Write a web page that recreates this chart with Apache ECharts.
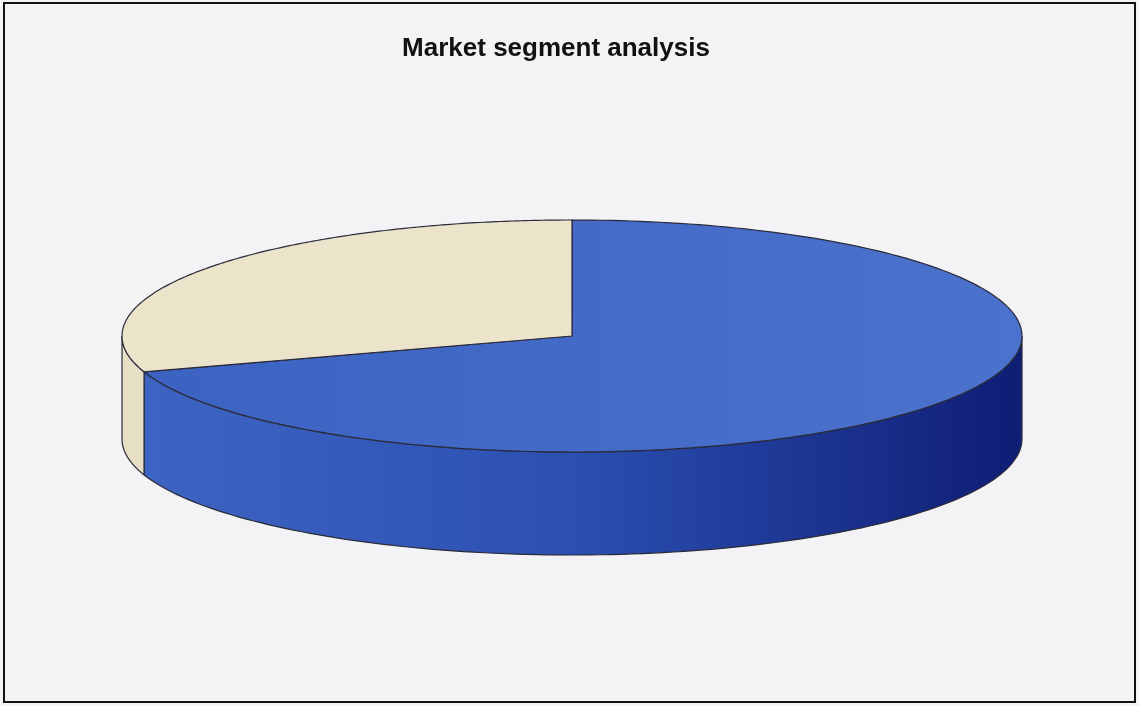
<!DOCTYPE html>
<html>
<head>
<meta charset="utf-8">
<script src="https://cdn.jsdelivr.net/npm/echarts@6/dist/echarts.min.js"></script>
<style>
html,body{margin:0;padding:0;background:#f3f3f5;}
#frame{position:absolute;left:3px;top:2px;width:1129px;height:697px;border:2px solid #111;background:#f3f3f5;}
#chart{width:1129px;height:697px;}
</style>
</head>
<body>
<div id="frame"><div id="chart"></div></div>
<script>
var categories = ['Segment A', 'Segment B'];
var values = [70, 30];
var chartTitle = 'Market segment analysis';

var topColors = ['#4169c6', '#ebe4cb'];
var sideLeft = ['#3f65c4', '#e6dfc6'];
var sideMid = ['#2b50b2', '#e2dbc1'];
var sideRight = ['#0f1d74', '#d8d0b6'];

var chart = echarts.init(document.getElementById('chart'));
var total = values.reduce(function (a, b) { return a + b; }, 0);

function renderItem(params, api) {
  var idx = params.dataIndex;
  var cx = 567, cy = 332, rx = 450, ry = 116, depth = 103;
  var start = 0;
  for (var i = 0; i < idx; i++) start += values[i];
  var a0 = start / total * 2 * Math.PI;
  var a1 = (start + api.value(1)) / total * 2 * Math.PI;
  function pt(a, dy) { return [cx + rx * Math.sin(a), cy - ry * Math.cos(a) + (dy || 0)]; }
  var children = [];
  var s0 = Math.max(a0, Math.PI / 2), s1 = Math.min(a1, 3 * Math.PI / 2);
  if (s1 > s0) {
    var pts = [], n = 120, k;
    for (k = 0; k <= n; k++) pts.push(pt(s0 + (s1 - s0) * k / n));
    for (k = n; k >= 0; k--) pts.push(pt(s0 + (s1 - s0) * k / n, depth));
    children.push({
      type: 'polygon',
      shape: { points: pts },
      style: {
        fill: new echarts.graphic.LinearGradient(cx - rx, 0, cx + rx, 0, [
          { offset: 0, color: sideLeft[idx] },
          { offset: 0.5, color: sideMid[idx] },
          { offset: 1, color: sideRight[idx] }
        ], true),
        stroke: '#2a2a3a', lineWidth: 1.2
      }
    });
  }
  var tp = [[cx, cy]], m = 200;
  for (var j = 0; j <= m; j++) tp.push(pt(a0 + (a1 - a0) * j / m));
  children.push({
    type: 'polygon',
    shape: { points: tp },
    style: {
      fill: new echarts.graphic.LinearGradient(cx - rx, 0, cx + rx, 0, [
        { offset: 0, color: idx === 0 ? '#3b62c1' : topColors[idx] },
        { offset: 1, color: idx === 0 ? '#4b72cc' : topColors[idx] }
      ], true),
      stroke: '#2a2a3a', lineWidth: 1.2
    }
  });
  return { type: 'group', children: children };
}

chart.setOption({
  backgroundColor: '#f3f3f5',
  animation: false,
  title: {
    text: chartTitle,
    left: 546, top: 27, textAlign: 'center',
    textStyle: { fontFamily: 'Liberation Sans, Arial', fontSize: 26, fontWeight: 'bold', color: '#111' }
  },
  series: [{
    type: 'custom',
    coordinateSystem: 'none',
    renderItem: renderItem,
    data: categories.map(function (c, i) { return { name: c, value: [i, values[i]] }; })
  }]
});
</script>
</body>
</html>
